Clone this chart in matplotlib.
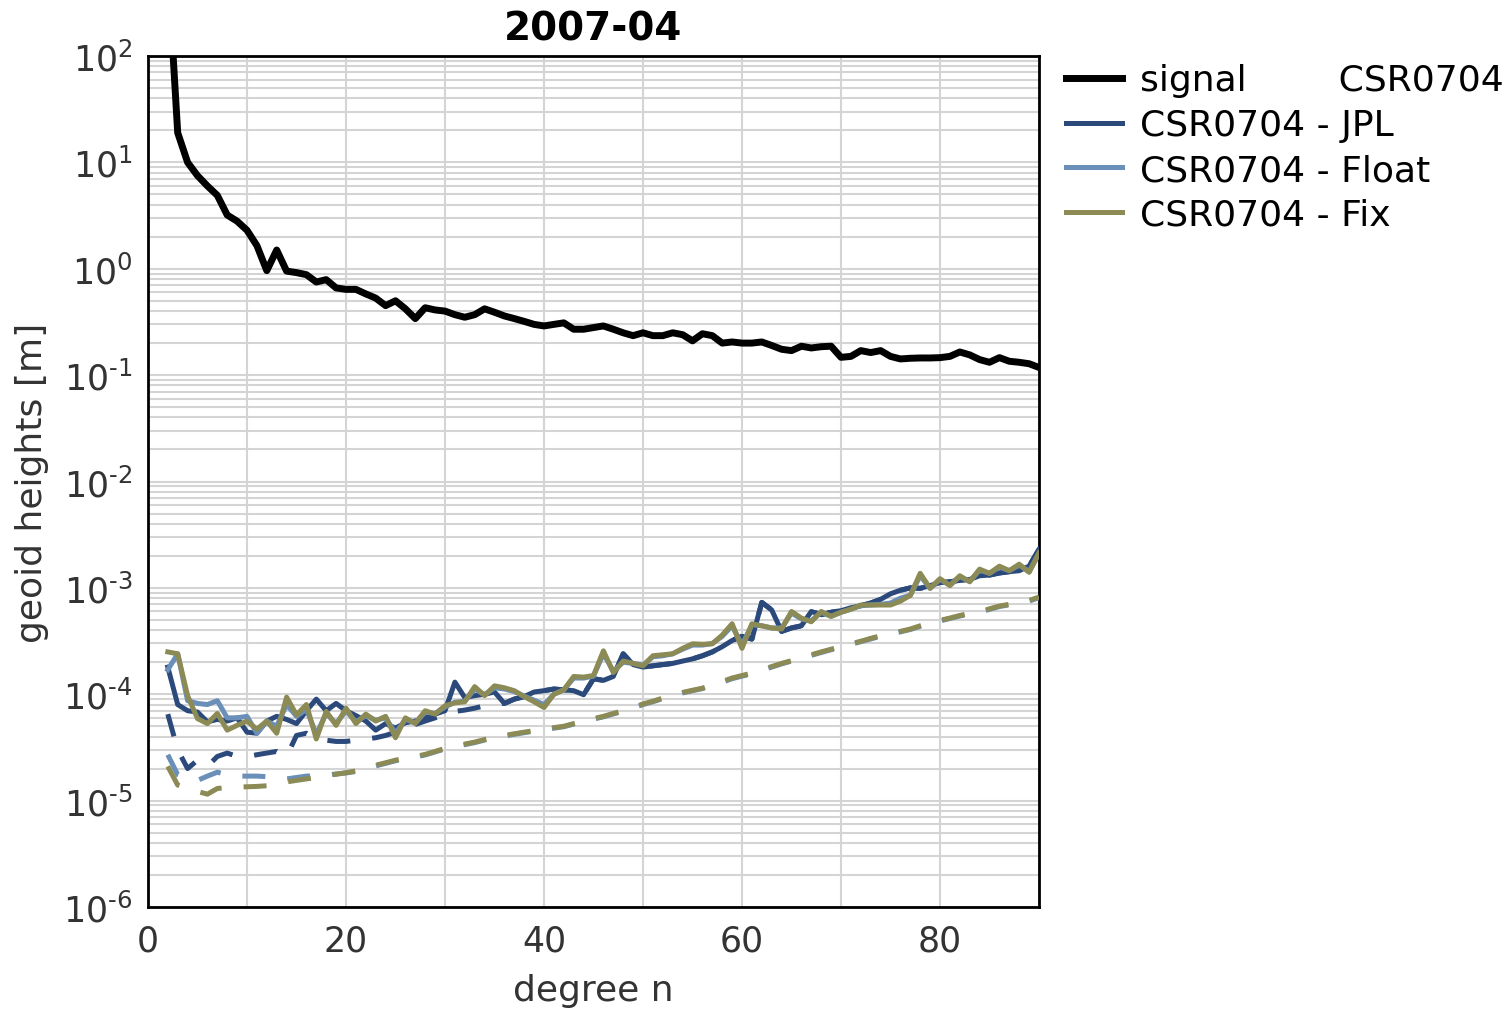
import numpy as np
import matplotlib
matplotlib.use("Agg")
import matplotlib.pyplot as plt
from matplotlib.ticker import FixedLocator, LogLocator, NullFormatter, FixedFormatter

degrees = list(range(2, 91))

signal = [700, 19, 10, 7.5, 6.0, 4.9, 3.2, 2.8, 2.3, 1.65,
          0.96, 1.5, 0.95, 0.92, 0.88, 0.75, 0.79, 0.66, 0.64, 0.64,
          0.58, 0.53, 0.45, 0.50, 0.42, 0.34, 0.43, 0.41, 0.40, 0.37,
          0.35, 0.37, 0.42, 0.39, 0.36, 0.34, 0.32, 0.30, 0.29, 0.30,
          0.31, 0.27, 0.27, 0.28, 0.29, 0.27, 0.25, 0.235, 0.25, 0.235,
          0.235, 0.25, 0.24, 0.21, 0.245, 0.235, 0.20, 0.205, 0.20, 0.20,
          0.205, 0.19, 0.175, 0.17, 0.187, 0.18, 0.185, 0.187, 0.147, 0.15,
          0.17, 0.163, 0.17, 0.15, 0.142, 0.144, 0.145, 0.145, 0.146, 0.15,
          0.165, 0.155, 0.14, 0.132, 0.146, 0.135, 0.132, 0.128, 0.118]

jpl_diff = [1.8e-4, 8.0e-5, 7.0e-5, 6.8e-5, 5.5e-5, 5.8e-5, 5.6e-5, 6.0e-5, 4.4e-5, 4.3e-5,
            5.6e-5, 6.2e-5, 5.8e-5, 5.3e-5, 7.0e-5, 9.0e-5, 7.0e-5, 8.2e-5, 7.0e-5, 6.3e-5,
            5.6e-5, 4.6e-5, 5.3e-5, 4.8e-5, 5.4e-5, 5.6e-5, 6.0e-5, 6.5e-5, 7.0e-5, 1.3e-4,
            9.3e-5, 9.7e-5, 1.0e-4, 1.05e-4, 8.2e-5, 9.0e-5, 9.5e-5, 1.05e-4, 1.08e-4, 1.12e-4,
            1.1e-4, 1.08e-4, 9.9e-5, 1.4e-4, 1.35e-4, 1.47e-4, 2.4e-4, 1.9e-4, 1.8e-4, 1.85e-4,
            1.9e-4, 1.95e-4, 2.05e-4, 2.15e-4, 2.3e-4, 2.5e-4, 2.8e-4, 3.2e-4, 3.5e-4, 3.3e-4,
            7.3e-4, 6.2e-4, 3.9e-4, 4.2e-4, 4.4e-4, 6.0e-4, 5.6e-4, 5.9e-4, 6.1e-4, 6.5e-4,
            6.8e-4, 7.2e-4, 7.8e-4, 8.8e-4, 9.5e-4, 1.0e-3, 9.9e-4, 1.05e-3, 1.12e-3, 1.14e-3,
            1.18e-3, 1.2e-3, 1.3e-3, 1.32e-3, 1.38e-3, 1.42e-3, 1.45e-3, 1.6e-3, 2.3e-3]

float_diff = [1.7e-4, 2.4e-4, 8.7e-5, 8.2e-5, 8.0e-5, 8.7e-5, 6.0e-5, 6.0e-5, 6.2e-5, 4.3e-5,
              5.6e-5, 5.0e-5, 8.0e-5, 6.2e-5, 7.2e-5, 4.2e-5, 6.6e-5, 5.3e-5, 7.0e-5, 5.5e-5,
              6.3e-5, 5.7e-5, 6.0e-5, 4.3e-5, 5.8e-5, 5.4e-5, 6.8e-5, 6.6e-5, 7.6e-5, 8.4e-5,
              8.6e-5, 1.12e-4, 9.9e-5, 1.15e-4, 1.12e-4, 1.06e-4, 9.6e-5, 8.8e-5, 8.0e-5, 1.0e-4,
              1.1e-4, 1.42e-4, 1.42e-4, 1.48e-4, 2.4e-4, 1.65e-4, 2.0e-4, 1.95e-4, 1.88e-4, 2.25e-4,
              2.3e-4, 2.4e-4, 2.65e-4, 2.9e-4, 2.9e-4, 3.0e-4, 3.5e-4, 4.4e-4, 2.9e-4, 4.5e-4,
              4.4e-4, 4.2e-4, 4.2e-4, 5.8e-4, 5.1e-4, 4.9e-4, 5.9e-4, 5.4e-4, 5.9e-4, 6.3e-4,
              6.8e-4, 6.9e-4, 7.0e-4, 7.2e-4, 8.0e-4, 8.5e-4, 1.3e-3, 9.9e-4, 1.2e-3,
              1.06e-3, 1.28e-3, 1.15e-3, 1.47e-3, 1.37e-3, 1.57e-3, 1.45e-3, 1.64e-3, 1.42e-3, 2.1e-3]

fix_diff = [2.5e-4, 2.4e-4, 9.7e-5, 5.9e-5, 5.3e-5, 6.6e-5, 4.6e-5, 5.1e-5, 5.6e-5, 4.7e-5,
            5.6e-5, 4.3e-5, 9.4e-5, 6.4e-5, 8.0e-5, 3.8e-5, 6.9e-5, 5.1e-5, 7.4e-5, 5.3e-5,
            6.5e-5, 5.6e-5, 6.2e-5, 3.9e-5, 6.0e-5, 5.3e-5, 7.0e-5, 6.5e-5, 7.8e-5, 8.3e-5,
            8.5e-5, 1.18e-4, 9.7e-5, 1.2e-4, 1.15e-4, 1.08e-4, 9.5e-5, 8.5e-5, 7.5e-5, 1.0e-4,
            1.1e-4, 1.47e-4, 1.45e-4, 1.5e-4, 2.56e-4, 1.6e-4, 2.05e-4, 1.95e-4, 1.85e-4, 2.3e-4,
            2.35e-4, 2.4e-4, 2.7e-4, 2.98e-4, 2.95e-4, 2.98e-4, 3.6e-4, 4.6e-4, 2.7e-4, 4.6e-4,
            4.4e-4, 4.2e-4, 4.1e-4, 6.0e-4, 5.2e-4, 4.8e-4, 6.0e-4, 5.4e-4, 5.9e-4, 6.3e-4,
            6.9e-4, 6.9e-4, 6.9e-4, 6.9e-4, 7.5e-4, 8.5e-4, 1.37e-3, 9.9e-4, 1.22e-3,
            1.05e-3, 1.3e-3, 1.14e-3, 1.5e-3, 1.37e-3, 1.6e-3, 1.45e-3, 1.67e-3, 1.4e-3, 2.14e-3]

jpl_formal = [6.5e-5, 3.0e-5, 2.0e-5, 2.4e-5, 2.1e-5, 2.6e-5, 2.8e-5, 2.6e-5, 2.6e-5, 2.7e-5,
              2.8e-5, 2.9e-5, 2.6e-5, 4.1e-5, 4.3e-5, 3.8e-5, 3.7e-5, 3.6e-5, 3.6e-5, 3.7e-5,
              3.8e-5, 3.9e-5, 4.1e-5, 4.4e-5, 4.8e-5, 5.2e-5, 5.6e-5, 6.0e-5, 6.5e-5, 6.9e-5,
              7.1e-5, 7.4e-5, 7.8e-5, 8.2e-5, 8.2e-5, 9.0e-5, 9.5e-5, 1.05e-4, 1.08e-4, 1.12e-4,
              1.1e-4, 1.08e-4, 9.9e-5, 1.4e-4, 1.35e-4, 1.47e-4, 2.4e-4, 1.9e-4, 1.8e-4, 1.85e-4,
              1.9e-4, 1.95e-4, 2.05e-4, 2.15e-4, 2.3e-4, 2.5e-4, 2.8e-4, 3.2e-4, 3.5e-4, 3.3e-4,
              7.3e-4, 6.2e-4, 3.9e-4, 4.2e-4, 4.4e-4, 6.0e-4, 5.6e-4, 5.9e-4, 6.1e-4, 6.5e-4,
              6.8e-4, 7.2e-4, 7.8e-4, 8.8e-4, 9.5e-4, 1.0e-3, 9.9e-4, 1.05e-3, 1.12e-3, 1.14e-3,
              1.18e-3, 1.2e-3, 1.3e-3, 1.32e-3, 1.38e-3, 1.42e-3, 1.45e-3, 1.6e-3, 2.3e-3]

float_formal = [2.7e-5, 1.75e-5, 1.6e-5, 1.55e-5, 1.7e-5, 1.85e-5, 1.75e-5, 1.7e-5, 1.7e-5, 1.7e-5,
                1.68e-5, 1.64e-5, 1.6e-5, 1.65e-5, 1.7e-5, 1.72e-5, 1.74e-5, 1.78e-5, 1.82e-5, 1.88e-5,
                2.0e-5, 2.12e-5, 2.24e-5, 2.37e-5, 2.47e-5, 2.57e-5, 2.69e-5, 2.87e-5, 3.06e-5, 3.21e-5,
                3.36e-5, 3.51e-5, 3.71e-5, 3.9e-5, 4.05e-5, 4.2e-5, 4.35e-5, 4.5e-5, 4.65e-5, 4.8e-5,
                4.95e-5, 5.24e-5, 5.54e-5, 5.84e-5, 6.13e-5, 6.53e-5, 6.92e-5, 7.42e-5, 8.0e-5, 8.5e-5,
                9.1e-5, 9.7e-5, 1.03e-4, 1.08e-4, 1.13e-4, 1.22e-4, 1.3e-4, 1.4e-4, 1.48e-4, 1.56e-4,
                1.68e-4, 1.8e-4, 1.93e-4, 2.05e-4, 2.18e-4, 2.32e-4, 2.47e-4, 2.62e-4, 2.77e-4, 2.95e-4,
                3.12e-4, 3.31e-4, 3.51e-4, 3.68e-4, 3.86e-4, 4.06e-4, 4.35e-4, 4.65e-4, 4.9e-4, 5.15e-4,
                5.44e-4, 5.69e-4, 5.94e-4, 6.28e-4, 6.68e-4, 6.93e-4, 7.18e-4, 7.52e-4, 8.1e-4]

fix_formal = [2.1e-5, 1.4e-5, 1.3e-5, 1.22e-5, 1.15e-5, 1.3e-5, 1.33e-5, 1.34e-5, 1.35e-5, 1.36e-5,
              1.38e-5, 1.44e-5, 1.5e-5, 1.55e-5, 1.6e-5, 1.65e-5, 1.72e-5, 1.77e-5, 1.83e-5, 1.9e-5,
              2.02e-5, 2.15e-5, 2.27e-5, 2.4e-5, 2.5e-5, 2.6e-5, 2.72e-5, 2.9e-5, 3.1e-5, 3.25e-5,
              3.4e-5, 3.55e-5, 3.75e-5, 3.95e-5, 4.1e-5, 4.25e-5, 4.4e-5, 4.55e-5, 4.7e-5, 4.85e-5,
              5.0e-5, 5.3e-5, 5.6e-5, 5.9e-5, 6.2e-5, 6.6e-5, 7.0e-5, 7.5e-5, 8.1e-5, 8.6e-5,
              9.2e-5, 9.8e-5, 1.04e-4, 1.09e-4, 1.14e-4, 1.23e-4, 1.32e-4, 1.42e-4, 1.5e-4, 1.58e-4,
              1.7e-4, 1.82e-4, 1.95e-4, 2.07e-4, 2.2e-4, 2.35e-4, 2.5e-4, 2.65e-4, 2.8e-4, 2.98e-4,
              3.15e-4, 3.35e-4, 3.55e-4, 3.72e-4, 3.9e-4, 4.1e-4, 4.4e-4, 4.7e-4, 4.95e-4, 5.2e-4,
              5.5e-4, 5.75e-4, 6.0e-4, 6.35e-4, 6.75e-4, 7.0e-4, 7.25e-4, 7.6e-4, 8.2e-4]

labels = ["signal        CSR0704", "CSR0704 - JPL", "CSR0704 - Float", "CSR0704 - Fix"]
title = "2007-04"
yticks = [1e-6, 1e-5, 1e-4, 1e-3, 1e-2, 1e-1, 1e0, 1e1, 1e2]
ytick_labels = [r"$10^{\text{-6}}$", r"$10^{\text{-5}}$", r"$10^{\text{-4}}$", r"$10^{\text{-3}}$",
                r"$10^{\text{-2}}$", r"$10^{\text{-1}}$", r"$10^{0}$", r"$10^{1}$", r"$10^{2}$"]
xtick_labels = ["0", "", "20", "", "40", "", "60", "", "80", ""]

c_sig = "black"
c_jpl = "#2b4a7b"
c_float = "#6a8fb8"
c_fix = "#8c8b55"
grid_c = "#d4d4d4"
txt_c = "#333333"

plt.rcParams["font.family"] = ["DejaVu Sans"]
plt.rcParams["mathtext.fontset"] = "dejavusans"

fig = plt.figure(figsize=(15.06, 10.12), dpi=100)
ax = fig.add_axes([148/1506, 1 - 908/1012, (1039-148)/1506, (908-57)/1012])

lw = 3.6
dash = (4.6, 4.4)
ax.plot(degrees, signal, color=c_sig, lw=5.0, label=labels[0], zorder=5)
ax.plot(degrees, jpl_formal, color=c_jpl, lw=lw, dashes=dash, zorder=2)
ax.plot(degrees, jpl_diff, color=c_jpl, lw=lw, label=labels[1], zorder=3)
ax.plot(degrees, float_diff, color=c_float, lw=lw, label=labels[2], zorder=3)
ax.plot(degrees, float_formal, color=c_float, lw=lw, dashes=dash, zorder=3)
ax.plot(degrees, fix_diff, color=c_fix, lw=lw, label=labels[3], zorder=4)
ax.plot(degrees, fix_formal, color=c_fix, lw=lw, dashes=dash, zorder=4)

ax.set_yscale("log")
ax.set_xlim(0, 90)
ax.set_ylim(1e-6, 1e2)
ax.yaxis.set_major_locator(FixedLocator(yticks))
ax.yaxis.set_major_formatter(FixedFormatter(ytick_labels))
ax.yaxis.set_minor_locator(LogLocator(base=10, subs=np.arange(2, 10), numticks=100))
ax.yaxis.set_minor_formatter(NullFormatter())
ax.xaxis.set_major_locator(FixedLocator(list(range(0, 91, 10))))
ax.xaxis.set_major_formatter(FixedFormatter(xtick_labels))

ax.grid(True, which="major", color=grid_c, lw=1.5, zorder=0)
ax.grid(True, which="minor", axis="y", color=grid_c, lw=1.5, zorder=0)
ax.set_axisbelow(True)
ax.tick_params(which="both", length=0, labelsize=25, colors=txt_c)
ax.tick_params(axis="x", pad=12)
ax.tick_params(axis="y", pad=11)
for s in ax.spines.values():
    s.set_color("black")
    s.set_linewidth(2.0)

ax.set_xlabel("degree n", fontsize=26, color=txt_c, labelpad=11)
ax.set_ylabel("geoid heights [m]", fontsize=26, color=txt_c, labelpad=10)
ax.set_title(title, fontsize=28, fontweight="bold", pad=12)

leg = ax.legend(loc="upper left", bbox_to_anchor=(1052/1506, 1 - 50/1012),
                bbox_transform=fig.transFigure, frameon=False, fontsize=26,
                handlelength=1.55, handletextpad=0.5, labelspacing=0.3, borderaxespad=0.0)

fig.savefig("out.png", dpi=100)
